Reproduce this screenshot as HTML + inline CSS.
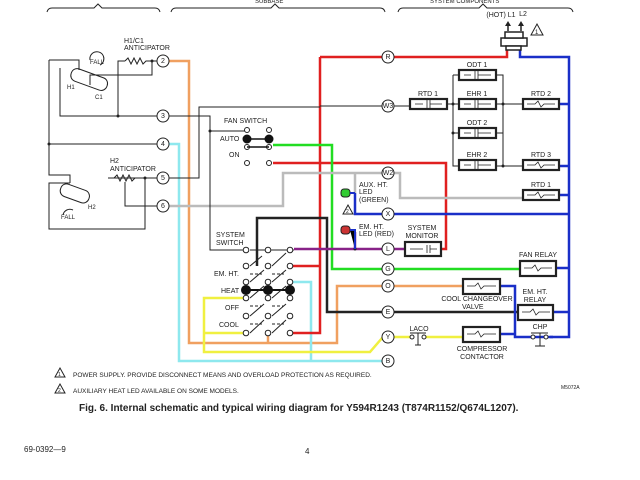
<!DOCTYPE html>
<html><head><style>
html,body{margin:0;padding:0;background:#fff;}
svg{display:block;font-family:"Liberation Sans",sans-serif;}
text{font-size:7px;fill:#222;}
</style></head><body>
<svg width="640" height="480" viewBox="0 0 640 480">
<g fill="none" stroke="#222" stroke-width="1">
<!-- brackets -->
<path d="M47,12 Q48,8 52,8 L94,8 L98,4 L102,8 L155,8 Q159,8 160,12"/>
<path d="M171,12 Q172,8 176,8 L271,8 L275,4 L279,8 L380,8 Q384,8 385,12"/>
<path d="M398,12 Q399,8 403,8 L479,8 L483,4 L487,8 L568,8 Q572,8 573,12"/>
</g>
<text x="430" y="3" style="font-size:6px">SYSTEM COMPONENTS</text>
<text x="255" y="3" style="font-size:6px">SUBBASE</text>

<!-- colored wires -->
<g fill="none" stroke-width="2.5">
<path stroke="#f0a060" d="M169,61 H189 V343 H337 V286 H383"/>
<path stroke="#f0a060" d="M268,333 V343"/>
<path stroke="#f0a060" d="M394,286 H463"/>
<path stroke="#8ee8ee" d="M169,144 H179 V361 H383"/>
<path stroke="#8ee8ee" d="M290,282 H311 V361"/>
<path stroke="#e02020" d="M273,163 H446 V249 H441"/>
<path stroke="#e02020" d="M320,57 V333 H290 M320,266 H290"/>
<path stroke="#e02020" d="M320,57 H383 M394,57 H507 V49"/>
<path stroke="#22dd22" d="M273,145 H332 V269 H383 M394,269 H520"/>
<path stroke="#bbb" d="M169,206 H283 V173 H383 M394,173 H400 V198 H523"/>
<path stroke="#bbb" d="M355,173 V193"/>
<path stroke="#222" d="M257,266 V218 H327 V312 H383 M394,312 H518"/>
<path stroke="#882288" d="M294,249 H383 M394,249 H405 M355,249 V232"/>
<path stroke="#1a2fc8" d="M520,50 V57 H569 V337 H550 M355,193 V214 H383 M394,214 H569"/>
<path stroke="#1a2fc8" d="M559,104 H569 M559,166 H569 M559,195 H569 M556,268 H569 M553,312 H569 M500,286 H515 V337 H553 M500,334 H515"/>
<path stroke="#f0f040" d="M246,298 H204 V352 H370 L383,337 M204,333 H246 M394,337 H410 M426,337 H463"/>
</g>

<!-- thin black wires -->
<g fill="none" stroke="#222" stroke-width="1">
<path d="M157,61 H152 M125,61 H118 V116 M152,61 V75 H90 V85"/>
<path d="M49,60 V175 H70 V183 M49,60 H79 V70 M60,68 V116 H157"/>
<path d="M49,144 H157"/>
<path d="M169,116 H210 V250 H246 M210,131 H246"/>
<path d="M169,178 H199 V107 H320 M320,106 H383 M394,106 H410"/>
<path d="M108,178 H157 M145,178 V229 H49 V183 H70 M125,182 V206 H157"/>
<path d="M447,104 H459 M453,75 V166 H459 M453,75 H459 M453,133 H459 M496,75 H503 V166 M496,104 H523 M496,133 H503 M496,166 H523"/>
<path d="M246,250 V250 M250,250 L294,250"/>
</g>
<g fill="#222">
<circle cx="152" cy="61" r="1.5"/><circle cx="118" cy="116" r="1.5"/><circle cx="49" cy="144" r="1.5"/>
<circle cx="210" cy="131" r="1.5"/><circle cx="145" cy="178" r="1.5"/><circle cx="453" cy="104" r="1.5"/>
<circle cx="453" cy="133" r="1.5"/><circle cx="503" cy="104" r="1.5"/><circle cx="503" cy="166" r="1.5"/>
<circle cx="355" cy="249" r="1.5"/>
</g>
<!-- resistors -->
<path d="M125,61 l3,-3 l3,6 l3,-6 l3,6 l3,-6 l3,6 l3,-3 h8" fill="none" stroke="#222"/>
<path d="M108,178 h6 l3,-3 l3,6 l3,-6 l3,6 l3,-6 l3,6 l3,-3" fill="none" stroke="#222"/>
<!-- thermostat bulbs -->
<g fill="none" stroke="#222">
<rect x="70" y="73" width="38" height="13" rx="6" transform="rotate(20 89 80)"/>
<rect x="60" y="187" width="30" height="13" rx="6" transform="rotate(20 75 193)"/>
<path d="M90,60 a7,7 0 1,1 10,5"/><path d="M63,215 a7,7 0 0,1 10,-5"/>
</g>
<text x="90" y="64" style="font-size:6px">FALL</text><text x="67" y="89" style="font-size:6px">H1</text><text x="95" y="99" style="font-size:6px">C1</text>
<text x="88" y="209" style="font-size:6px">H2</text><text x="61" y="219" style="font-size:6px">FALL</text>
<text x="124" y="43">H1/C1</text><text x="124" y="50">ANTICIPATOR</text>
<text x="110" y="163">H2</text><text x="110" y="171">ANTICIPATOR</text>

<!-- terminals -->
<g fill="#fff" stroke="#222" stroke-width="1">
<circle cx="163" cy="61" r="6"/><circle cx="163" cy="116" r="6"/><circle cx="163" cy="144" r="6"/><circle cx="163" cy="178" r="6"/><circle cx="163" cy="206" r="6"/>
<circle cx="388" cy="57" r="6"/><circle cx="388" cy="106" r="6"/><circle cx="388" cy="173" r="6"/><circle cx="388" cy="214" r="6"/><circle cx="388" cy="249" r="6"/><circle cx="388" cy="269" r="6"/><circle cx="388" cy="286" r="6"/><circle cx="388" cy="312" r="6"/><circle cx="388" cy="337" r="6"/><circle cx="388" cy="361" r="6"/>
</g>
<g text-anchor="middle" style="font-size:6px">
<text x="163" y="63">2</text><text x="163" y="118">3</text><text x="163" y="146">4</text><text x="163" y="180">5</text><text x="163" y="208">6</text>
<text x="388" y="59">R</text><text x="388" y="108">W3</text><text x="388" y="175">W2</text><text x="388" y="216">X</text><text x="388" y="251">L</text><text x="388" y="271">G</text><text x="388" y="288">O</text><text x="388" y="314">E</text><text x="388" y="339">Y</text><text x="388" y="363">B</text>
</g>

<!-- fan switch -->
<text x="224" y="123">FAN SWITCH</text><text x="220" y="141">AUTO</text><text x="229" y="157">ON</text>
<g fill="#fff" stroke="#222"><circle cx="247" cy="130" r="2.5"/><circle cx="269" cy="130" r="2.5"/><circle cx="247" cy="147" r="2.5"/><circle cx="269" cy="147" r="2.5"/><circle cx="247" cy="163" r="2.5"/><circle cx="269" cy="163" r="2.5"/></g>
<g fill="#111"><circle cx="247" cy="139" r="4.5"/><circle cx="269" cy="139" r="4.5"/></g>
<path d="M247,139 H269 M247,147 H269" stroke="#111" stroke-width="1.5"/>

<!-- system switch -->
<text x="216" y="237">SYSTEM</text><text x="216" y="245">SWITCH</text>
<text x="214" y="276">EM. HT.</text><text x="221" y="293">HEAT</text><text x="225" y="310">OFF</text><text x="219" y="327">COOL</text>
<g fill="#fff" stroke="#222">
<circle cx="246" cy="250" r="2.8"/><circle cx="268" cy="250" r="2.8"/><circle cx="290" cy="250" r="2.8"/>
<circle cx="246" cy="266" r="2.8"/><circle cx="268" cy="266" r="2.8"/><circle cx="290" cy="266" r="2.8"/>
<circle cx="246" cy="282" r="2.8"/><circle cx="268" cy="282" r="2.8"/><circle cx="290" cy="282" r="2.8"/>
<circle cx="246" cy="298" r="2.8"/><circle cx="268" cy="298" r="2.8"/><circle cx="290" cy="298" r="2.8"/>
<circle cx="246" cy="316" r="2.8"/><circle cx="268" cy="316" r="2.8"/><circle cx="290" cy="316" r="2.8"/>
<circle cx="246" cy="333" r="2.8"/><circle cx="268" cy="333" r="2.8"/><circle cx="290" cy="333" r="2.8"/>
</g>
<g fill="#111"><circle cx="246" cy="290" r="5"/><circle cx="268" cy="290" r="5"/><circle cx="290" cy="290" r="5"/></g>
<path d="M246,290 H290" stroke="#111" stroke-width="2"/>
<g stroke="#222" fill="none"><path d="M250,266 L262,256 M272,266 L286,253 M250,282 L264,270 M272,282 L286,270 M250,298 L264,286 M272,298 L286,286 M250,316 L264,304 M272,316 L286,304 M250,333 L264,320 M272,333 L286,320"/>
<path d="M250,274 h12 M250,306 h12 M250,324 h12 M272,274 h12 M272,306 h12 M272,324 h12" stroke-dasharray="3,2"/></g>

<!-- LEDs -->
<rect x="341" y="189" width="9" height="8" rx="3" fill="#33cc33" stroke="#222"/>
<rect x="341" y="226" width="9" height="8" rx="3" fill="#cc3333" stroke="#222"/>
<path d="M350,193 H355 M350,230 H355 V249" stroke="#1a2fc8" stroke-width="2"/>
<text x="359" y="187">AUX. HT.</text><text x="359" y="194">LED</text><text x="359" y="202">(GREEN)</text>
<text x="359" y="229">EM. HT.</text><text x="359" y="236">LED (RED)</text>
<path d="M343,214 l5,-9 l5,9 z" fill="#fff" stroke="#222"/><text x="346" y="213" style="font-size:5px">2</text>

<!-- component boxes -->
<g fill="#fff" stroke="#222" stroke-width="2.2">
<rect x="459" y="70" width="37" height="10"/><rect x="459" y="99" width="37" height="10"/><rect x="459" y="128" width="37" height="10"/><rect x="459" y="160" width="37" height="10"/>
<rect x="410" y="99" width="37" height="10"/><rect x="523" y="99" width="36" height="10"/><rect x="523" y="160" width="36" height="10"/><rect x="523" y="190" width="36" height="10"/>
<rect x="405" y="242" width="36" height="14"/><rect x="520" y="261" width="36" height="15"/>
<rect x="463" y="279" width="37" height="15"/><rect x="518" y="305" width="35" height="15"/><rect x="463" y="327" width="37" height="15"/>
</g>
<g text-anchor="middle">
<text x="477" y="67">ODT 1</text><text x="477" y="96">EHR 1</text><text x="477" y="125">ODT 2</text><text x="477" y="157">EHR 2</text>
<text x="428" y="96">RTD 1</text><text x="541" y="96">RTD 2</text><text x="541" y="157">RTD 3</text><text x="541" y="187">RTD 1</text>
<text x="422" y="230">SYSTEM</text><text x="422" y="238">MONITOR</text><text x="538" y="257">FAN RELAY</text>
<text x="477" y="301">COOL CHANGEOVER</text><text x="462" y="309" text-anchor="start">VALVE</text>
<text x="535" y="294">EM. HT.</text><text x="535" y="302">RELAY</text>
<text x="482" y="351">COMPRESSOR</text><text x="482" y="359">CONTACTOR</text>
<text x="419" y="331">LACO</text><text x="540" y="329">CHP</text>
<text x="501" y="17">(HOT) L1</text><text x="523" y="16">L2</text>
</g>
<!-- symbols inside boxes -->
<g stroke="#222" fill="none" stroke-width="0.8" style="font-size:6px">
<path d="M464,75 h7 m4,-4 v8 m3,-8 v8 m0,-4 h13"/><path d="M464,104 h7 m4,-4 v8 m3,-8 v8 m0,-4 h13"/><path d="M464,133 h7 m4,-4 v8 m3,-8 v8 m0,-4 h13"/><path d="M464,165 h7 m4,-4 v8 m3,-8 v8 m0,-4 h13"/>
<path d="M415,104 h8 m4,-4 v8 m3,-8 v8 m0,-4 h12"/><path d="M410,249 h13 m4,-4 v8 m3,-8 v8 m0,-4 h7"/>
<path d="M527,104 h8 l3,-3 l3,6 l3,-3 h11"/><path d="M527,165 h8 l3,-3 l3,6 l3,-3 h11"/><path d="M527,195 h8 l3,-3 l3,6 l3,-3 h11"/>
<path d="M524,268 h8 l3,-3 l3,6 l3,-3 h11"/><path d="M467,286 h8 l3,-3 l3,6 l3,-3 h12"/><path d="M522,312 h8 l3,-3 l3,6 l3,-3 h11"/><path d="M467,334 h8 l3,-3 l3,6 l3,-3 h12"/>
</g>
<!-- LACO / CHP -->
<g stroke="#222" fill="#fff">
<circle cx="412" cy="337" r="2"/><circle cx="424" cy="337" r="2"/><path d="M410,333 H426 M418,333 V345 M415,345 H421" fill="none"/>
<circle cx="533" cy="337" r="2"/><circle cx="546" cy="337" r="2"/><path d="M531,333 H548 M540,333 V346 M535,346 H545" fill="none"/>
</g>
<!-- power connector -->
<g stroke="#222" fill="#fff" stroke-width="1.5"><rect x="501" y="38" width="26" height="8"/><rect x="505" y="32" width="18" height="6"/><rect x="506" y="46" width="15" height="4"/></g>
<path d="M508,31 V24 M521,31 V24" stroke="#222" stroke-width="1.5"/>
<path d="M505,26 l3,-5 l3,5 z M518,26 l3,-5 l3,5 z" fill="#222"/>
<path d="M531,35 l6,-11 l6,11 z" fill="#fff" stroke="#222"/><text x="535" y="34" style="font-size:6px">1</text>

<!-- notes -->
<path d="M55,377 l5,-9 l5,9 z M55,393 l5,-9 l5,9 z" fill="#fff" stroke="#222"/>
<text x="58" y="376" style="font-size:5px">1</text><text x="58" y="392" style="font-size:5px">2</text>
<text x="73" y="377" style="font-size:6.5px">POWER SUPPLY. PROVIDE DISCONNECT MEANS AND OVERLOAD PROTECTION AS REQUIRED.</text>
<text x="73" y="393" style="font-size:6.5px">AUXILIARY HEAT LED AVAILABLE ON SOME MODELS.</text>
<text x="561" y="389" style="font-size:5px">M5072A</text>
<text x="79" y="411" style="font-size:10px;font-weight:bold">Fig. 6. Internal schematic and typical wiring diagram for Y594R1243 (T874R1152/Q674L1207).</text>
<text x="24" y="452" style="font-size:8px">69-0392—9</text>
<text x="305" y="454" style="font-size:8px">4</text>
</svg>
</body></html>
